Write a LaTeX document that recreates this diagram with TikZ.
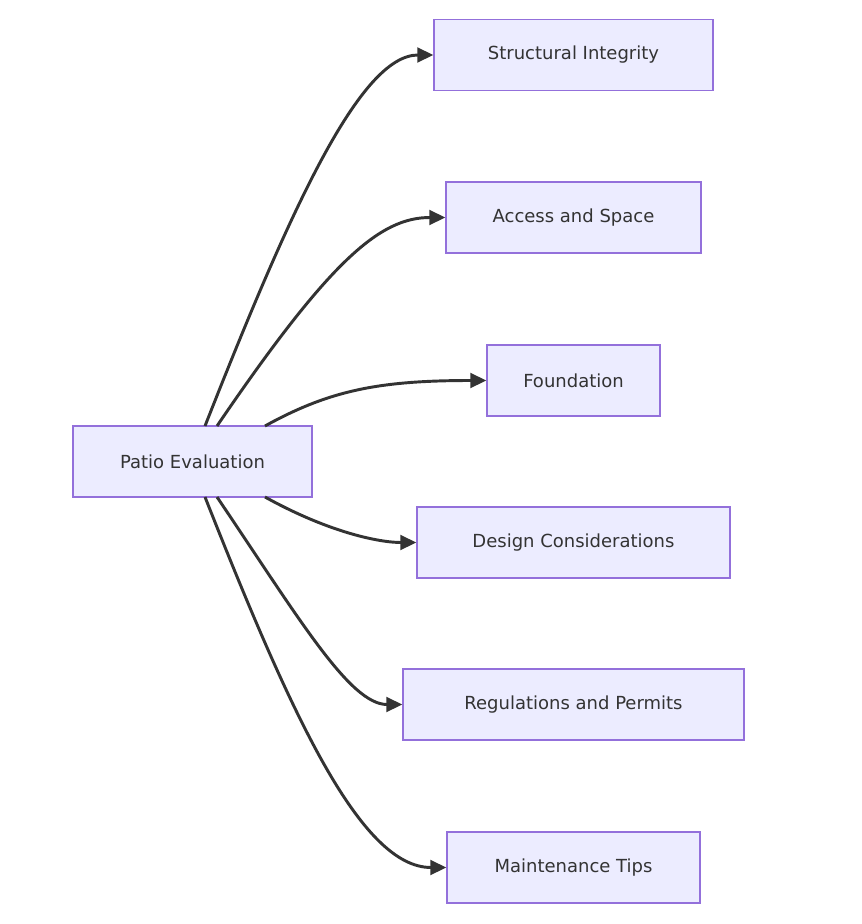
\documentclass[tikz,border=0pt]{standalone}
\usepackage{fontspec}
\setmainfont{DejaVu Sans}
\usetikzlibrary{arrows.meta}
\definecolor{nf}{HTML}{ECECFF}
\definecolor{ns}{HTML}{9370DB}
\definecolor{tx}{HTML}{333333}
\begin{document}
\begin{tikzpicture}[x=0.75pt,y=-0.75pt,
  box/.style={draw=ns,fill=nf,line width=1pt,text=tx,font=\fontsize{13.5}{16}\selectfont,inner sep=0pt,minimum height=53.25pt},
  e/.style={draw=tx,line width=2.2pt,-{Triangle[length=12pt,width=11pt]}}]
\useasboundingbox (0,0) rectangle (862,924);
\node[box,minimum width=179.25pt] (p) at (192.5,461.5) {Patio Evaluation};
\node[box,minimum width=209.25pt] (a) at (573.5,55) {Structural Integrity};
\node[box,minimum width=191.25pt] (b) at (573.5,217.5) {Access and Space};
\node[box,minimum width=129.75pt] (c) at (573.5,380.5) {Foundation};
\node[box,minimum width=234.75pt] (d) at (573.5,542.5) {Design Considerations};
\node[box,minimum width=255.75pt] (f) at (573.5,704.5) {Regulations and Permits};
\node[box,minimum width=189.75pt] (g) at (573.5,867.5) {Maintenance Tips};
\coordinate (s1) at (205,426); \coordinate (s2) at (217,426); \coordinate (s3) at (265,426);
\coordinate (s4) at (265,497); \coordinate (s5) at (217,497); \coordinate (s6) at (205,497);
\draw[e] (s1) .. controls (290,210) and (360,55) .. (a.west);
\draw[e] (s2) .. controls (330,260) and (380,217.5) .. (b.west);
\draw[e] (s3) .. controls (330,390) and (380,380.5) .. (c.west);
\draw[e] (s4) .. controls (330,533) and (380,542.5) .. (d.west);
\draw[e] (s5) .. controls (300,620) and (350,704.5) .. (f.west);
\draw[e] (s6) .. controls (290,712) and (360,867.5) .. (g.west);
\end{tikzpicture}
\end{document}
